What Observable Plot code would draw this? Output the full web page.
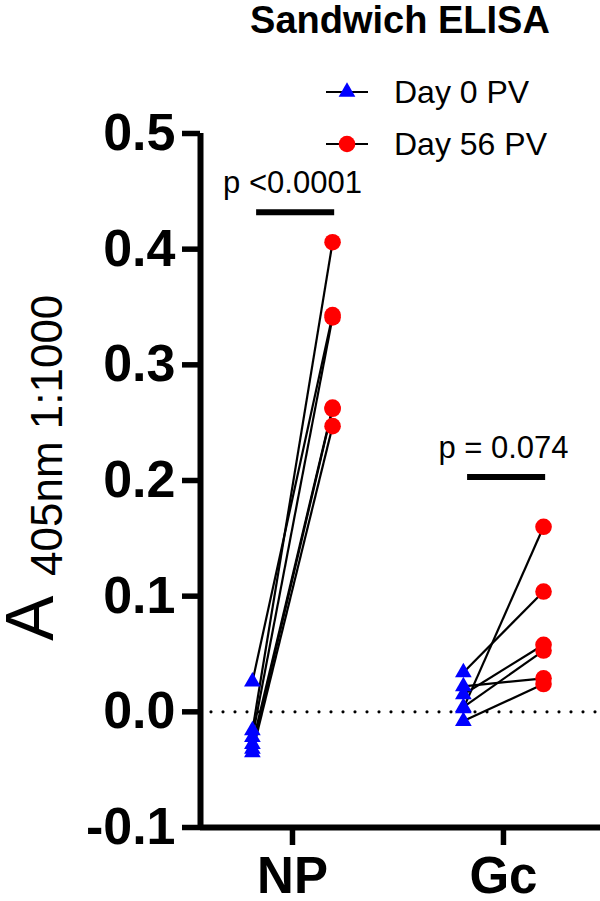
<!DOCTYPE html>
<html>
<head>
<meta charset="utf-8">
<script src="https://cdn.jsdelivr.net/npm/d3@7"></script>
<script src="https://cdn.jsdelivr.net/npm/@observablehq/plot@0.6"></script>
<style>
  html, body { margin: 0; padding: 0; background: #fff; }
  #wrap { position: relative; width: 600px; height: 901px; font-family: "Liberation Sans", Arial, sans-serif; color: #000; }
  #title { position: absolute; left: 250px; width: 300px; top: 1px; text-align: center; font-weight: bold; font-size: 38px; line-height: 38px; white-space: nowrap; }
  .leg { position: absolute; left: 326px; height: 32px; display: flex; align-items: center; font-size: 32px; line-height: 32px; white-space: nowrap; }
  .leg svg { margin-right: 26px; }
  #chart { position: absolute; left: 0; top: 0; }
</style>
</head>
<body>
<div id="wrap">
  <div id="chart"></div>
  <div id="title">Sandwich ELISA</div>
  <div class="leg" id="leg0" style="top:76px"></div>
  <div class="leg" id="leg1" style="top:128px"></div>
</div>
<script>
const categories = ["NP", "Gc"];
const seriesNames = ["Day 0 PV", "Day 56 PV"];
const npDay0  = [0.026, -0.016, -0.022, -0.028, -0.032, -0.035];
const npDay56 = [0.343, 0.406, 0.341, 0.263, 0.262, 0.247];
const gcDay0  = [0.034, 0.022, 0.015, 0.003, 0.004, -0.008];
const gcDay56 = [0.104, 0.029, 0.058, 0.160, 0.053, 0.024];
const pLabels = ["p <0.0001", "p = 0.074"];
const bracketLevels = [0.432, 0.203];
const yTicks = [-0.1, 0, 0.1, 0.2, 0.3, 0.4, 0.5];

const day0 = [npDay0, gcDay0];
const day56 = [npDay56, gcDay56];
const off = 0.19;
const rows = categories.flatMap((c, i) =>
  day0[i].map((v, j) => ({cat: c, x0: i - off, x1: i + off, before: v, after: day56[i][j]}))
);
const stats = categories.map((c, i) => ({cat: c, xa: i - 0.17, xb: i + 0.2, xc: i, y: bracketLevels[i], label: pLabels[i]}));
const xDomain = [-0.436, 1.46];
const FONT = "Liberation Sans, Arial, sans-serif";

const chart = Plot.plot({
  width: 600,
  height: 901,
  marginLeft: 200,
  marginRight: 0,
  marginTop: 133,
  marginBottom: 74,
  style: {fontFamily: FONT, background: "transparent", color: "#000"},
  x: {type: "linear", domain: xDomain},
  y: {domain: [-0.1, 0.5]},
  marks: [
    Plot.ruleY([0], {stroke: "#000", strokeWidth: 3.2, strokeDasharray: "0,12", strokeLinecap: "round", strokeDashoffset: -11}),
    Plot.link(rows, {x1: "x0", y1: "before", x2: "x1", y2: "after", stroke: "#000", strokeWidth: 2.2}),
    Plot.dot(rows, {x: "x0", y: "before", symbol: "triangle", r: 6.2, fill: "#0000ff"}),
    Plot.dot(rows, {x: "x1", y: "after", r: 8.3, fill: "#ff0000"}),
    Plot.ruleY(stats, {y: "y", x1: "xa", x2: "xb", stroke: "#000", strokeWidth: 6}),
    Plot.text(stats, {x: "xc", y: "y", text: "label", dy: -19, lineAnchor: "bottom", fontSize: 31, fill: "#000"}),
    Plot.ruleX([xDomain[0]], {stroke: "#000", strokeWidth: 6}),
    Plot.ruleY([-0.1], {stroke: "#000", strokeWidth: 6}),
    Plot.axisY({ticks: yTicks, tickFormat: d => d.toFixed(1), tickSize: 18, tickPadding: 7, strokeWidth: 5.5, fontSize: 52, fontWeight: "bold", label: null}),
    Plot.axisX({ticks: [0, 1], tickFormat: i => categories[i], tickSize: 18, tickPadding: 11, strokeWidth: 5.5, fontSize: 51, fontWeight: "bold", label: null})
  ]
});
document.getElementById("chart").appendChild(chart);

// y-axis title with subscript-like part
const svg = d3.select(chart);
svg.append("text")
  .attr("transform", "translate(53,641) rotate(-90)")
  .attr("text-anchor", "start")
  .attr("font-family", FONT).attr("font-size", 68).attr("fill", "#000")
  .text("A");
svg.append("text")
  .attr("transform", "translate(62,576) rotate(-90)")
  .attr("text-anchor", "start")
  .attr("font-family", FONT).attr("font-size", 44).attr("fill", "#000")
  .text("405nm 1:1000");

// legend
function swatch(kind) {
  const s = d3.create("svg").attr("width", 42).attr("height", 32);
  s.append("line").attr("x1", 0).attr("x2", 42).attr("y1", 16).attr("y2", 16).attr("stroke", "#000").attr("stroke-width", 2.2);
  if (kind === 0) {
    s.append("path").attr("transform", "translate(21,16)").attr("d", d3.symbol(d3.symbolTriangle, Math.PI * 6.2 * 6.2)()).attr("fill", "#0000ff");
  } else {
    s.append("circle").attr("cx", 21).attr("cy", 16).attr("r", 8.3).attr("fill", "#ff0000");
  }
  return s.node();
}
[0, 1].forEach(k => {
  const el = document.getElementById("leg" + k);
  el.appendChild(swatch(k));
  const t = document.createElement("span");
  t.textContent = seriesNames[k];
  el.appendChild(t);
});
</script>
</body>
</html>
